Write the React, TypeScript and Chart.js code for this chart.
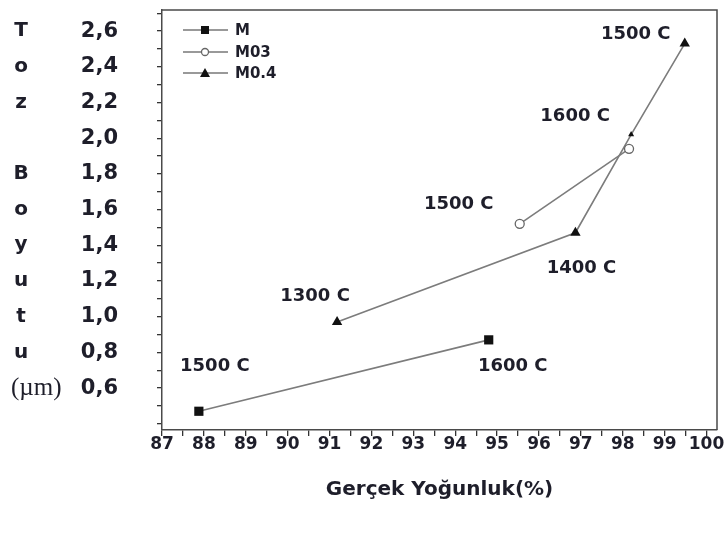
import React, { useEffect, useRef } from "react";
import { Chart, registerables } from "chart.js";

Chart.register(...registerables);

// ---- data ----
const seriesNames = ["M", "M03", "M0.4"];
const xM = [87.88, 94.8];
const yM = [0.47, 0.87];
const xM03 = [95.54, 98.15];
const yM03 = [1.52, 1.94];
const xM04 = [91.18, 96.87, 98.2, 99.48];
const yM04 = [0.97, 1.47, 2.02, 2.53];

const yTickLabels = [0.6, 0.8, 1.0, 1.2, 1.4, 1.6, 1.8, 2.0, 2.2, 2.4, 2.6];
const xTickLabels = [87, 88, 89, 90, 91, 92, 93, 94, 95, 96, 97, 98, 99, 100];
const yTitleLetters = ["(µm)", "u", "t", "u", "y", "o", "B", "", "z", "o", "T"];
const xTitle = "Gerçek Yoğunluk(%)";

// point annotations: [series index, point index, text]
const pointNotes: [number, number, string][] = [
  [0, 0, "1500 C"],
  [0, 1, "1600 C"],
  [2, 0, "1300 C"],
  [1, 0, "1500 C"],
  [2, 1, "1400 C"],
  [2, 2, "1600 C"],
  [2, 3, "1500 C"],
];
// pixel offsets of the annotation text from its point (layout only)
const noteOffsets: [number, number][] = [
  [16, -45],
  [24, 26],
  [-22, -26],
  [-61, -20],
  [6, 36],
  [-56, -18],
  [-49, -9],
];

const TEXT = "#1e1e2a";
const BOLD = "bold 18px 'DejaVu Sans'";

function toXY(xs: number[], ys: number[]) {
  return xs.map((x, i) => ({ x, y: ys[i] }));
}

const decoPlugin = {
  id: "deco",
  afterDraw(chart: any) {
    const { ctx, chartArea, scales } = chart;
    const ys = scales.y;
    ctx.save();
    // top & right frame
    ctx.strokeStyle = "#4a4a4a";
    ctx.lineWidth = 1.5;
    ctx.beginPath();
    ctx.moveTo(chartArea.left, chartArea.top);
    ctx.lineTo(chartArea.right, chartArea.top);
    ctx.lineTo(chartArea.right, chartArea.bottom);
    ctx.stroke();

    // vertical y-title letters
    ctx.fillStyle = TEXT;
    ctx.textBaseline = "middle";
    yTickLabels.forEach((v, i) => {
      const t = yTitleLetters[i];
      if (!t) return;
      const py = ys.getPixelForValue(v);
      if (t.startsWith("(")) {
        ctx.font = "25px 'Liberation Serif'";
        ctx.textAlign = "left";
        ctx.fillText(t, 11, py);
      } else {
        ctx.font = "bold 20px 'DejaVu Sans'";
        ctx.textAlign = "center";
        ctx.fillText(t, 21, py);
      }
    });

    // annotations
    ctx.font = BOLD;
    ctx.textAlign = "center";
    pointNotes.forEach(([si, pi, text], k) => {
      const el = chart.getDatasetMeta(si).data[pi];
      if (!el) return;
      const [dx, dy] = noteOffsets[k];
      ctx.fillText(text, el.x + dx, el.y + dy);
    });

    // legend
    const rows = [30, 52, 73];
    chart.data.datasets.forEach((ds: any, i: number) => {
      const y = rows[i];
      ctx.strokeStyle = "#777";
      ctx.lineWidth = 1.5;
      ctx.beginPath();
      ctx.moveTo(183, y);
      ctx.lineTo(228, y);
      ctx.stroke();
      const cx = 205;
      ctx.fillStyle = ds.pointBackgroundColor;
      ctx.strokeStyle = ds.pointBorderColor;
      ctx.lineWidth = 1.3;
      ctx.beginPath();
      if (ds.pointStyle === "rect") {
        ctx.rect(cx - 4, y - 4, 8, 8);
        ctx.fill();
      } else if (ds.pointStyle === "circle") {
        ctx.arc(cx, y, 3.5, 0, Math.PI * 2);
        ctx.fill();
        ctx.stroke();
      } else {
        ctx.moveTo(cx, y - 5);
        ctx.lineTo(cx + 5, y + 4);
        ctx.lineTo(cx - 5, y + 4);
        ctx.closePath();
        ctx.fill();
      }
      ctx.fillStyle = TEXT;
      ctx.font = "bold 15px 'DejaVu Sans'";
      ctx.textAlign = "left";
      ctx.fillText(ds.label, 235, y + 1);
    });
    ctx.restore();
  },
};

export default function App() {
  const ref = useRef<HTMLCanvasElement>(null);
  useEffect(() => {
    if (!ref.current) return;
    const chart = new Chart(ref.current, {
      type: "scatter",
      data: {
        datasets: [
          {
            label: seriesNames[0],
            data: toXY(xM, yM),
            showLine: true,
            borderColor: "#7c7c7c",
            borderWidth: 1.6,
            pointStyle: "rect",
            pointRadius: 6.5,
            pointBackgroundColor: "#111",
            pointBorderColor: "#111",
            pointBorderWidth: 0,
          },
          {
            label: seriesNames[1],
            data: toXY(xM03, yM03),
            showLine: true,
            borderColor: "#7c7c7c",
            borderWidth: 1.6,
            pointStyle: "circle",
            pointRadius: 4.5,
            pointBackgroundColor: "#fff",
            pointBorderColor: "#666",
            pointBorderWidth: 1.3,
          },
          {
            label: seriesNames[2],
            data: toXY(xM04, yM04),
            showLine: true,
            borderColor: "#7c7c7c",
            borderWidth: 1.6,
            pointStyle: "triangle",
            pointRadius: [6, 6, 3.5, 6],
            pointBackgroundColor: "#111",
            pointBorderColor: "#111",
            pointBorderWidth: 0,
          },
        ],
      },
      options: {
        animation: false,
        responsive: false,
        maintainAspectRatio: false,
        layout: { padding: { top: 10, right: 7, left: 0, bottom: 0 } },
        plugins: { legend: { display: false }, tooltip: { enabled: false } },
        scales: {
          x: {
            type: "linear",
            min: 87,
            max: 100.25,
            afterFit(scale: any) {
              scale.height = 106;
              scale.paddingLeft = 0;
              scale.paddingRight = 0;
            },
            afterBuildTicks(scale: any) {
              const t = [];
              for (let v = 87; v <= 100.001; v += 0.5) t.push({ value: Math.round(v * 2) / 2 });
              scale.ticks = t;
            },
            ticks: {
              autoSkip: false,
              maxRotation: 0,
              padding: -2,
              color: TEXT,
              font: { family: "'DejaVu Sans'", size: 17, weight: "bold" },
              callback: (v: any) => (xTickLabels.includes(v) ? String(v) : ""),
            },
            grid: {
              drawOnChartArea: false,
              drawTicks: true,
              tickLength: 6,
              color: "#333",
              lineWidth: 1.3,
            },
            border: { color: "#4a4a4a", width: 1.5 },
            title: {
              display: true,
              text: xTitle,
              color: TEXT,
              font: { family: "'DejaVu Sans'", size: 20, weight: "bold" },
              padding: { top: 0, bottom: 34 },
            },
          },
          y: {
            type: "linear",
            min: 0.365,
            max: 2.718,
            afterFit(scale: any) {
              scale.width = 162;
              scale.paddingTop = 0;
              scale.paddingBottom = 0;
            },
            afterBuildTicks(scale: any) {
              const t = [];
              for (let v = 0.4; v <= 2.7001; v += 0.1) t.push({ value: Math.round(v * 10) / 10 });
              scale.ticks = t;
            },
            ticks: {
              autoSkip: false,
              padding: 39,
              color: TEXT,
              font: { family: "'DejaVu Sans'", size: 21, weight: "bold" },
              callback: (v: any) =>
                yTickLabels.some((l) => Math.abs(l - v) < 1e-6)
                  ? Number(v).toFixed(1).replace(".", ",")
                  : "",
            },
            grid: {
              drawOnChartArea: false,
              drawTicks: true,
              tickLength: 5,
              color: "#333",
              lineWidth: 1.3,
            },
            border: { color: "#4a4a4a", width: 1.5 },
          },
        },
      },
      plugins: [decoPlugin],
    });
    return () => chart.destroy();
  }, []);
  return (
    <div style={{ position: "absolute", left: 0, top: 0, width: 724, height: 536, background: "#fff" }}>
      <canvas ref={ref} width={724} height={536} style={{ width: 724, height: 536 }} />
    </div>
  );
}
